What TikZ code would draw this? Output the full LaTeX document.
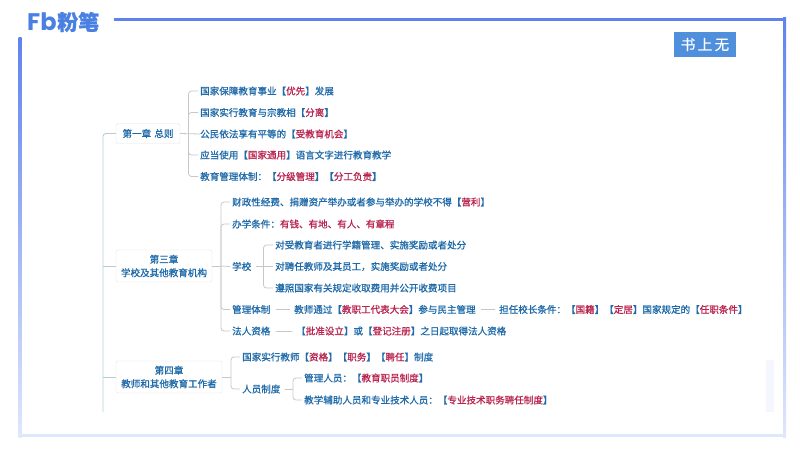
\documentclass[tikz,border=0pt]{standalone}
\usepackage{fontspec}
\setmainfont[FakeBold=1.0]{Noto Sans CJK SC}
\newfontfamily\logofont{Poppins}
\newfontfamily\tagfont[FakeBold=0.6]{Noto Sans CJK SC}
\definecolor{inkblue}{HTML}{1F6AA8}
\definecolor{inkred}{HTML}{B8244F}
\definecolor{framehi}{HTML}{5F82EE}
\definecolor{framelo}{HTML}{DFE7FC}
\definecolor{logoblue}{HTML}{4A80E2}
\definecolor{tagblue}{HTML}{4F8FDB}
\newcommand{\hl}[1]{\textcolor{inkred}{#1}}
\tikzstyle{item}=[anchor=west, inner sep=0pt, text=inkblue, font=\fontsize{9.55}{13.5}\selectfont]
\tikzstyle{chapter}=[fill=white, draw=black!11, rounded corners=1.5pt, inner sep=0pt, align=center, text=inkblue, font=\fontsize{9.55}{13.5}\selectfont]
\tikzstyle{wire}=[-, line width=0.8pt, draw=black!22, rounded corners=3pt]
\tikzstyle{trunk}=[-, line width=0.9pt, draw=blue!25!cyan!30!gray!45, rounded corners=3pt]

\begin{document}
\begin{tikzpicture}[x=1pt, y=-1pt]
    \useasboundingbox (0, 0) rectangle (800, 450);

    % frame
    \fill [framehi] (114, 17.5) rectangle (786, 20.5);
    \shade [top color=framehi, bottom color=framelo] (18.5, 37) rectangle (21.5, 437);
    \shade [top color=framehi, bottom color=framelo] (783, 17.5) rectangle (786, 437);
    \fill [framelo] (18.5, 434) rectangle (786, 437);
    \fill [framelo!35] (766, 360) rectangle (774, 412);

    % logo and tag
    \node [anchor=west, inner sep=0pt, text=logoblue, font=\logofont\bfseries\fontsize{24}{24}\selectfont] (logo) at (27, 21.5) {Fb};
    \node [anchor=west, inner sep=0pt, text=logoblue, font=\bfseries\fontsize{21}{21}\selectfont] (brand) at (57, 22) {粉笔};
    \node [fill=tagblue, minimum width=62, minimum height=25.5, inner sep=0pt, text=white, font=\tagfont\fontsize{14.5}{14.5}\selectfont] (tag) at (705, 44.5) {书\,上\,无};

    % chapters
    \node [chapter, minimum width=64, minimum height=20] (c1) at (148, 133.5) {第一章\,\,总则};
    \node [chapter, minimum width=96, minimum height=32] (c3) at (164, 266) {第三章\\学校及其他教育机构};
    \node [chapter, minimum width=106, minimum height=32] (c4) at (169, 377) {第四章\\教师和其他教育工作者};

    % chapter one
    \node [item] (a1) at (200, 91) {国家保障教育事业【\hl{优先}】发展};
    \node [item] (a2) at (200, 112.5) {国家实行教育与宗教相【\hl{分离}】};
    \node [item] (a3) at (200, 134) {公民依法享有平等的【\hl{受教育机会}】};
    \node [item] (a4) at (200, 155) {应当使用【\hl{国家通用}】语言文字进行教育教学};
    \node [item] (a5) at (200, 176.5) {教育管理体制：【\hl{分级管理}】【\hl{分工负责}】};

    % chapter three
    \node [item] (b1) at (232, 202) {财政性经费、捐赠资产举办或者参与举办的学校不得【\hl{营利}】};
    \node [item] (b2) at (232, 224) {办学条件：\hl{有钱、有地、有人、有章程}};
    \node [item] (b3) at (232, 266.5) {学校};
    \node [item] (b4) at (232, 309.5) {管理体制};
    \node [item] (b5) at (232, 331) {法人资格};
    \node [item] (s1) at (275, 245) {对受教育者进行学籍管理、实施奖励或者处分};
    \node [item] (s2) at (275, 266.5) {对聘任教师及其员工，实施奖励或者处分};
    \node [item] (s3) at (275, 288) {遵照国家有关规定收取费用并公开收费项目};
    \node [item] (m1) at (294, 309.5) {教师通过【\hl{教职工代表大会}】参与民主管理};
    \node [item] (m2) at (499, 309.5) {担任校长条件：【\hl{国籍}】【\hl{定居}】国家规定的【\hl{任职条件}】};
    \node [item] (l1) at (296, 331) {【\hl{批准设立}】或【\hl{登记注册}】之日起取得法人资格};

    % chapter four
    \node [item] (d1) at (242, 357) {国家实行教师【\hl{资格}】【\hl{职务}】【\hl{聘任}】制度};
    \node [item] (d2) at (242, 389) {人员制度};
    \node [item] (p1) at (304, 378) {管理人员：【\hl{教育职员制度}】};
    \node [item] (p2) at (304, 400) {教学辅助人员和专业技术人员：【\hl{专业技术职务聘任制度}】};

    % connectors
    \coordinate (root) at (103, 412);
    \coordinate (bus1) at (188.5, 133.5);
    \coordinate (bus3) at (221, 266);
    \coordinate (bus4) at (231, 377);
    \coordinate (busb) at (263.5, 266.5);
    \coordinate (busd) at (293, 389);

    \draw [trunk] (root) |- (c1.west);
    \draw [trunk] (103, 266) -- (c3.west);
    \draw [trunk] (103, 377) -- (c4.west);

    \draw [wire] (c1.east) -- (a3.west);
    \foreach \n in {a1, a2, a4, a5}
        \draw [wire] (bus1) |- ([xshift=-2pt]\n.west);
    \draw [wire] (c3.east) -- (bus3);
    \foreach \n in {b1, b2, b4, b5}
        \draw [wire] (bus3) |- ([xshift=-2pt]\n.west);
    \draw [wire] (bus3) -- ([xshift=-2pt]b3.west);
    \draw [wire] ([xshift=4pt]b3.east) -- ([xshift=-2pt]s2.west);
    \foreach \n in {s1, s3}
        \draw [wire] (busb) |- ([xshift=-2pt]\n.west);
    \draw [wire] ([xshift=5pt]b4.east) -- ([xshift=-4pt]m1.west);
    \draw [wire] ([xshift=5pt]m1.east) -- ([xshift=-4pt]m2.west);
    \draw [wire] ([xshift=5pt]b5.east) -- ([xshift=-4pt]l1.west);
    \draw [wire] (c4.east) -- (bus4);
    \foreach \n in {d1, d2}
        \draw [wire] (bus4) |- ([xshift=-2pt]\n.west);
    \draw [wire] ([xshift=4pt]d2.east) -- (busd);
    \foreach \n in {p1, p2}
        \draw [wire] (busd) |- ([xshift=-2pt]\n.west);
\end{tikzpicture}
\end{document}
